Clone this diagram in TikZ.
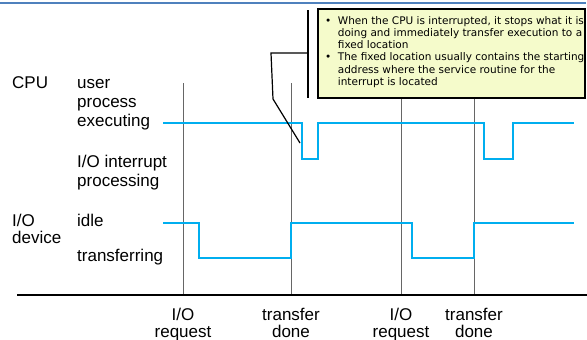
\documentclass[tikz,border=0pt]{standalone}
\usepackage{fontspec}
\setmainfont{Liberation Sans}
\newfontfamily\notefont{DejaVu Sans}
\usetikzlibrary{positioning}
\definecolor{sigblue}{RGB}{0,174,239}
\definecolor{notebg}{RGB}{245,251,203}
\definecolor{rulblue}{RGB}{79,129,189}

\begin{document}
\begin{tikzpicture}[x=1pt, y=-1pt,
  lbl/.style={font=\fontsize{17}{19}\selectfont, align=left, inner sep=0pt},
  tlbl/.style={font=\fontsize{17}{17}\selectfont, align=center, inner sep=0pt, anchor=base},
  tick/.style={black!60, line width=1pt},
  signal/.style={sigblue, line width=2.6pt},
  notebox/.style={draw, line width=1.4pt, fill=notebg, minimum width=267pt, minimum height=89pt, inner sep=0pt},
]
\useasboundingbox (0,0) rectangle (587,340);
\draw[rulblue, line width=1.5pt] (0,3) -- (586,3);

% time marks and axis
\foreach \x in {183,291,401,474}
  \draw[tick] (\x,83) -- (\x,295);
\draw[line width=1.5pt] (17,295) -- (587,295);

% row labels (base = last line)
\node[lbl, anchor=base west] (cpu) at (12,88) {CPU};
\node[lbl, anchor=base west] (user) at (77,126) {user\\process\\executing};
\node[lbl, anchor=base west] (intr) at (77,186) {I/O interrupt\\processing};
\node[lbl, anchor=base west, font=\fontsize{17}{17.5}\selectfont] (dev) at (12,243.5) {I/O\\device};
\node[lbl, anchor=base west] (idle) at (77,226) {idle};
\node[lbl, anchor=base west] (xfer) at (77,261) {transferring};

% event labels
\node[tlbl] (req1) at (183,337) {I/O\\request};
\node[tlbl] (done1) at (291,337) {transfer\\done};
\node[tlbl] (req2) at (401,337) {I/O\\request};
\node[tlbl] (done2) at (474,337) {transfer\\done};

% cpu and device waveforms
\draw[signal] (163,123) -- (302,123) -- (302,159) -- (318,159) -- (318,123)
  -- (484,123) -- (484,159) -- (513,159) -- (513,123) -- (574,123);
\draw[signal] (163,223) -- (199,223) -- (199,258) -- (291,258) -- (291,223)
  -- (412,223) -- (412,258) -- (474,258) -- (474,223) -- (574,223);

% callout
\node[notebox] (note) at (451.5,53.5) {};
\node[inner sep=0pt, anchor=base west, font=\notefont\fontsize{10.5}{12.3}\selectfont] (notetxt) at (325,24) {%
  \begin{tabular}[t]{@{}l@{\hspace{6.5pt}}l@{}}
  \textbullet & When the CPU is interrupted, it stops what it is\\
   & doing and immediately transfer execution to a\\
   & fixed location\\
  \textbullet & The fixed location usually contains the starting\\
   & address where the service routine for the\\
   & interrupt is located
  \end{tabular}};

\coordinate (bartop) at (308,10);
\coordinate (barbot) at (308,98);
\coordinate (barmid) at (308,53);
\coordinate (elbow) at (271,53);
\coordinate (knee) at (273,99);
\coordinate (tip) at (300,143);
\draw[line width=1.2pt] (bartop) -- (barbot);
\draw[line width=1.2pt] (barmid) -- (elbow) -- (knee) -- (tip);
\end{tikzpicture}
\end{document}
